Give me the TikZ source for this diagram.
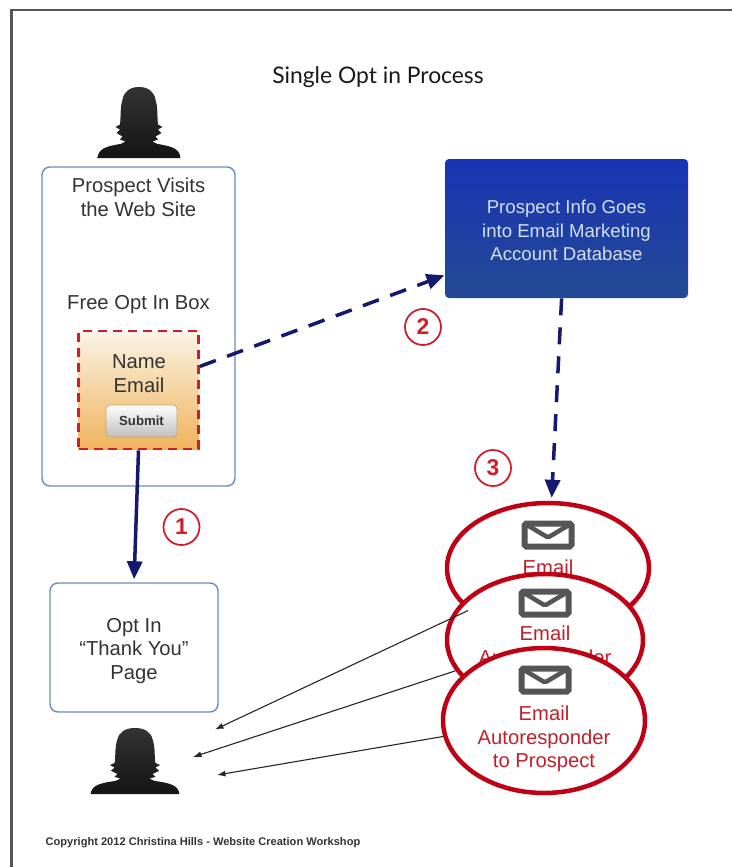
\documentclass[tikz,border=0pt]{standalone}
\usepackage{fontspec}
\setmainfont{Liberation Sans}
\newfontfamily\titlefont{Lato}
\usetikzlibrary{arrows.meta,shapes.geometric}

\definecolor{framegray}{HTML}{555555}
\definecolor{textdark}{HTML}{333333}
\definecolor{boxblue}{HTML}{6A8CBB}
\definecolor{formred}{HTML}{CC1F2B}
\definecolor{formtop}{HTML}{FBF4E6}
\definecolor{formbot}{HTML}{EFB35B}
\definecolor{dbtop}{HTML}{1A33B4}
\definecolor{dbbot}{HTML}{234B94}
\definecolor{dbtext}{HTML}{D5DFF2}
\definecolor{arrownavy}{HTML}{14186F}
\definecolor{ovalred}{HTML}{C00014}
\definecolor{mailtextred}{HTML}{C0202C}
\definecolor{mailgray}{HTML}{555555}

\tikzset{
    pagebox/.style={draw=boxblue,line width=0.8pt,rounded corners=0.16cm,fill=white,inner sep=0pt},
    bodytext/.style={text=textdark,align=center,font=\fontsize{11.5}{13.4}\selectfont},
    mailoval/.style={ellipse,draw=ovalred,line width=0.09cm,fill=white,inner sep=0pt},
    mailtext/.style={text=mailtextred,align=center,font=\fontsize{11.5}{13.4}\selectfont},
    mailicon/.style={draw=mailgray,line width=0.12cm,rounded corners=1pt,minimum width=0.94cm,minimum height=0.46cm,inner sep=0pt,
        path picture={\draw[mailgray,line width=0.09cm] (path picture bounding box.north west)--([yshift=-0.05cm]path picture bounding box.center)--(path picture bounding box.north east);}},
    numcircle/.style={circle,draw=formred,line width=1pt,fill=white,text=formred,minimum size=0.72cm,inner sep=0pt,font=\bfseries\fontsize{13}{13}\selectfont},
    stepsolid/.style={-{Triangle[length=0.36cm,width=0.3cm]},arrownavy,line width=0.07cm},
    stepdash/.style={stepsolid,dash pattern=on 0.34cm off 0.24cm},
    mailarrow/.style={-{Latex[length=0.17cm,width=0.12cm]},black!85,line width=0.022cm},
    pics/woman/.style={code={
        \shade[top color=black!80,bottom color=black!92]
            (-0.83,0) .. controls (-0.81,0.17) and (-0.7,0.23) .. (-0.37,0.28) -- (-0.27,0.33) -- (-0.38,0.37)
            -- (-0.33,0.43) -- (-0.45,0.5) -- (-0.38,0.57) -- (-0.47,0.62) -- (-0.38,0.67)
            .. controls (-0.36,0.85) and (-0.38,1) .. (-0.33,1.17) .. controls (-0.3,1.33) and (-0.18,1.42) .. (0,1.42)
            .. controls (0.18,1.42) and (0.3,1.33) .. (0.33,1.17) .. controls (0.38,1) and (0.36,0.85) .. (0.38,0.67)
            -- (0.47,0.62) -- (0.38,0.57) -- (0.45,0.5) -- (0.33,0.43) -- (0.38,0.37) -- (0.27,0.33) -- (0.37,0.28)
            .. controls (0.7,0.23) and (0.81,0.17) .. (0.83,0) -- cycle;
    }},
}

\begin{document}
\begin{tikzpicture}
    \useasboundingbox (0,0) rectangle (14.64,-17.34);
    \fill[white] (0,0) rectangle (14.64,-17.34);
    \draw[framegray,line width=0.045cm] (0.23,-17.34)--(0.23,-0.2)--(14.64,-0.2);

    \node[text=black!90,font=\titlefont\fontsize{13}{13}\selectfont] (title) at (7.56,-1.55) {Single Opt in Process};
    \node[font=\fontsize{6.3}{8}\selectfont\bfseries,text=textdark] (copyright) at (4.06,-16.86) {Copyright 2012 Christina Hills - Website Creation Workshop};

    \pic at (2.78,-3.16) {woman};
    \pic[xscale=1.07,yscale=0.93] at (2.7,-15.88) {woman};

    % left column
    \node[pagebox,minimum width=3.86cm,minimum height=6.38cm] (visit) at (2.77,-6.53) {};
    \node[bodytext] (visittext) at (2.77,-3.95) {Prospect Visits\\the Web Site};
    \node[bodytext] (freetext) at (2.77,-6.1) {Free Opt In Box};
    \node[draw=formred,line width=0.055cm,dash pattern=on 0.18cm off 0.12cm,top color=formtop,bottom color=formbot,minimum width=2.4cm,minimum height=2.36cm,inner sep=0pt] (form) at (2.77,-7.8) {};
    \node[bodytext] (formtext) at (2.78,-7.47) {Name\\Email};
    \node[draw=formbot!70!gray,line width=0.4pt,rounded corners=0.08cm,top color=white,bottom color=black!25,minimum width=1.42cm,minimum height=0.64cm,inner sep=0pt,text=textdark,font=\bfseries\fontsize{7.5}{9}\selectfont] (submit) at (2.83,-8.42) {Submit};
    \node[pagebox,minimum width=3.36cm,minimum height=2.58cm] (thanks) at (2.68,-12.95) {};
    \node[bodytext] (thankstext) at (2.68,-13.02) {Opt In\\``Thank You''\\Page};

    % right column
    \node[rounded corners=0.08cm,top color=dbtop,bottom color=dbbot,minimum width=4.86cm,minimum height=2.78cm,inner sep=0pt] (database) at (11.33,-4.57) {};
    \node[text=dbtext,align=center,font=\fontsize{10.6}{13.3}\selectfont] (databasetext) at (11.33,-4.61) {Prospect Info Goes\\into Email Marketing\\Account Database};

    \coordinate (tipa) at (4.3,-14.59);
    \coordinate (tipb) at (3.86,-15.14);
    \coordinate (tipc) at (4.34,-15.5);

    \node[mailoval,minimum width=4.04cm,minimum height=2.6cm] (mailone) at (10.96,-11.36) {};
    \node[mailicon] (iconone) at (10.96,-10.7) {};
    \node[mailtext] (textone) at (10.96,-11.34) {Email};

    \node[mailoval,minimum width=3.92cm,minimum height=2.64cm] (mailtwo) at (10.9,-12.8) {};
    \node[mailicon] (icontwo) at (10.9,-12.06) {};
    \node[mailtext] (texttwo) at (10.9,-12.94) {Email\\Autoresponder};
    \draw[mailarrow] (mailone.208.7)--(tipa);

    \node[mailoval,minimum width=4.04cm,minimum height=2.9cm] (mailthree) at (10.88,-14.41) {};
    \node[mailicon] (iconthree) at (10.9,-13.6) {};
    \node[mailtext] (textthree) at (10.88,-14.78) {Email\\Autoresponder\\to Prospect};
    \draw[mailarrow] (mailtwo.199.2)--(tipb);
    \draw[mailarrow] (mailthree.189.3)--(tipc);

    % numbered steps
    \draw[stepsolid,shorten >=0.06cm] (form.south)--(thanks.north);
    \draw[stepdash] (form.21.6)--(database.201);
    \draw[stepdash,shorten >=0.06cm] (database.266.3)--(mailone.87);
    \node[numcircle] (stepone) at (3.63,-10.54) {1};
    \node[numcircle] (steptwo) at (8.46,-6.54) {2};
    \node[numcircle] (stepthree) at (9.86,-9.36) {3};
\end{tikzpicture}
\end{document}
